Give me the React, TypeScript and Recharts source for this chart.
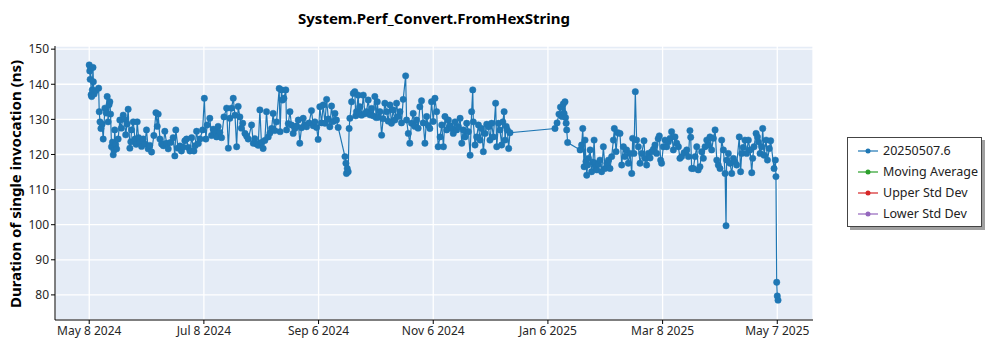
import { LineChart, Line, XAxis, YAxis, CartesianGrid } from "recharts";

// days after May 8 2024, duration in ns
const spring2024: [number, number][] = [
  [0, 145.5], [0.3, 143.8], [0.5, 141.4], [0.8, 144.6], [1.0, 137.0], [1.3, 136.5], [1.6, 138.4], [2.0, 144.8],
  [2.2, 140.7], [2.6, 137.2], [3.5, 138.2], [5.0, 138.9], [5.3, 132.2], [5.7, 129.3], [6.2, 127.4], [6.8, 128.6],
  [7.4, 124.4], [8.3, 133.2], [9.0, 131.8], [9.5, 136.5], [10.0, 129.3], [10.5, 134.2], [10.9, 135.0], [11.3, 131.5],
  [11.8, 122.2], [12.3, 123.5], [12.7, 119.9], [13.1, 121.2], [13.5, 127.0], [14.0, 122.8], [14.5, 121.6], [15.3, 124.4],
  [16.2, 129.8], [17.0, 127.5], [18.0, 131.2], [18.6, 130.0], [19.3, 125.6], [20.0, 128.7], [20.6, 132.9], [21.5, 121.8],
  [22.0, 123.6], [22.4, 127.0], [23.3, 129.3], [24.2, 124.4], [24.8, 122.9], [25.4, 129.3], [26.1, 124.8], [26.8, 123.4],
  [27.7, 122.3], [28.6, 124.4], [29.4, 123.0], [30.3, 127.0], [31.2, 121.6], [32.0, 122.6], [33.0, 120.7], [34.2, 125.4],
  [35.3, 131.9], [36.0, 128.0], [36.5, 131.5], [37.4, 124.4], [38.3, 123.0], [39.2, 122.5], [40.0, 126.6], [40.9, 123.2],
  [41.8, 121.6], [43.0, 123.4], [44.4, 124.8], [45.3, 119.6], [45.8, 127.0], [47.0, 121.8], [48.0, 122.4], [48.8, 121.0],
  [49.7, 122.1], [50.6, 123.9], [51.5, 124.4], [52.4, 122.0], [53.3, 121.0], [54.2, 124.8], [55.4, 121.0], [56.0, 122.5],
  [56.8, 126.6], [57.7, 123.1], [58.6, 124.4], [60.0, 127.0], [60.9, 136.0], [61.7, 124.4], [62.4, 128.4], [63.8, 130.3],
  [64.7, 125.4], [65.6, 127.2], [66.5, 126.6], [67.4, 125.0], [68.2, 128.0], [69.1, 126.3], [70.0, 124.8], [71.3, 130.7],
  [72.7, 133.2], [73.6, 121.8], [74.4, 130.3], [75.3, 133.2], [76.2, 136.0], [77.1, 131.2], [78.0, 122.2], [78.8, 133.7],
  [79.7, 130.7], [80.5, 127.5], [81.2, 128.9], [82.4, 126.0], [83.3, 125.2], [84.1, 124.4],
];

const autumn2024: [number, number][] = [
  [85.9, 128.4], [86.8, 123.2], [87.6, 124.5], [88.5, 123.0], [89.4, 122.6], [90.3, 132.7], [91.1, 123.4], [92.0, 121.7],
  [92.9, 124.0], [93.8, 132.2], [94.7, 125.0], [95.6, 126.1], [96.5, 127.4], [97.3, 131.7], [98.2, 126.8], [99.1, 129.3],
  [100.5, 138.8], [101.0, 126.5], [101.7, 138.4], [102.3, 135.5], [103.0, 136.0], [104.0, 138.4], [104.4, 127.0], [105.3, 128.8],
  [106.2, 132.2], [107.0, 128.4], [107.9, 126.0], [108.8, 127.4], [109.7, 128.1], [110.6, 129.8], [111.4, 123.2], [112.3, 127.6],
  [113.2, 130.3], [114.1, 128.5], [115.0, 127.9], [116.3, 129.0], [117.6, 132.5], [118.5, 128.2], [119.4, 129.3], [120.3, 127.7],
  [121.1, 124.3], [122.0, 133.6], [122.9, 129.0], [123.8, 134.1], [124.7, 128.9], [125.6, 135.7], [126.5, 130.1], [127.3, 127.9],
  [128.2, 133.8], [129.1, 129.4], [130.0, 131.7], [130.8, 129.8], [131.7, 127.7], [135.3, 119.4], [135.8, 117.5], [136.1, 114.6],
  [136.5, 116.0], [137.0, 115.1], [137.5, 127.4], [137.9, 130.3], [138.8, 135.0], [139.7, 137.4], [140.5, 137.9], [141.0, 131.0],
  [141.4, 132.2], [142.3, 136.9], [142.8, 131.5], [143.2, 133.6], [144.1, 131.2], [145.0, 136.9], [145.8, 131.6], [146.7, 132.2],
  [147.6, 135.5], [148.5, 131.3], [149.4, 133.1], [150.2, 131.0], [151.1, 136.5], [151.8, 130.5], [152.4, 135.0], [153.1, 130.6],
  [153.8, 132.2], [154.7, 125.5], [155.5, 130.2], [156.4, 134.6], [157.3, 132.2], [158.2, 129.5], [159.1, 134.1], [159.9, 128.9],
  [160.8, 132.7], [161.7, 129.8], [162.6, 134.6], [163.5, 130.8], [164.4, 132.2], [165.2, 129.0], [166.1, 135.7], [167.4, 142.4],
  [167.9, 129.8], [168.8, 126.0], [169.6, 123.2], [170.5, 128.9], [171.4, 131.7], [172.3, 128.0], [173.2, 129.8], [174.0, 127.5],
  [174.9, 133.6], [175.8, 135.3], [176.7, 129.0], [177.6, 123.2], [178.5, 130.8], [179.3, 128.3], [180.2, 127.4], [181.1, 135.0],
  [182.0, 129.4], [182.9, 136.0],
];

const winter2025: [number, number][] = [
  [183.8, 132.2], [184.6, 122.2], [185.6, 125.0], [186.5, 128.4], [187.4, 122.2], [188.2, 130.8], [189.1, 127.0], [190.0, 129.8],
  [190.9, 128.2], [191.8, 127.4], [192.6, 126.0], [193.5, 129.3], [194.4, 127.0], [195.3, 127.9], [196.2, 130.3], [197.1, 123.2],
  [197.9, 127.0], [198.8, 125.0], [199.7, 128.9], [200.6, 126.5], [201.5, 119.8], [202.3, 132.2], [202.9, 138.4], [203.2, 129.3],
  [204.1, 122.7], [205.0, 125.0], [205.9, 128.4], [206.8, 124.1], [207.6, 127.4], [208.5, 120.8], [209.4, 126.0], [210.3, 128.6],
  [211.2, 127.9], [212.0, 124.1], [212.9, 128.9], [213.8, 125.0], [215.0, 134.6], [215.6, 122.2], [216.5, 128.9], [217.3, 127.0],
  [218.2, 122.7], [218.8, 129.3], [219.5, 132.2], [220.0, 124.1], [220.6, 128.0], [221.2, 127.0], [221.9, 121.7], [222.6, 126.2],
  [246.4, 127.4], [247.5, 129.0], [248.5, 131.5], [249.3, 133.5], [250.0, 130.8], [250.8, 134.4], [251.2, 131.7], [251.7, 135.0],
  [252.0, 130.5], [252.3, 128.9], [252.6, 127.0], [253.1, 123.4], [259.7, 121.3], [260.5, 122.7], [261.1, 127.4], [261.8, 116.5],
  [262.3, 124.1], [262.8, 118.0], [263.2, 114.1], [263.7, 117.0], [264.1, 118.9], [265.0, 121.3], [265.8, 115.1], [266.5, 117.8],
  [267.1, 124.1], [267.6, 117.5], [268.0, 116.4], [268.5, 115.6], [269.3, 117.2], [270.2, 118.4], [271.1, 115.1], [272.0, 122.2],
  [272.9, 116.0], [273.8, 117.5], [274.7, 118.4], [275.5, 116.0], [276.4, 119.4], [277.3, 124.1], [277.8, 127.4], [278.7, 120.8],
  [279.6, 126.2],
];

const spring2025: [number, number][] = [
  [280.8, 126.0], [281.7, 117.0], [282.6, 122.2], [283.4, 119.4], [284.3, 121.3], [285.2, 117.5], [286.1, 120.3], [287.0, 114.6],
  [287.5, 124.6], [288.2, 120.3], [288.9, 137.9], [289.6, 124.1], [290.5, 122.2], [291.4, 117.5], [292.3, 120.3], [293.5, 123.9],
  [294.0, 118.9], [294.9, 117.0], [295.8, 120.3], [296.7, 119.0], [297.6, 120.8], [298.5, 121.5], [299.3, 122.7], [300.2, 120.3],
  [301.0, 124.5], [301.6, 125.3], [302.3, 118.4], [302.8, 117.5], [303.7, 122.2], [304.6, 124.1], [305.5, 122.2], [306.4, 123.6],
  [307.3, 124.6], [308.1, 126.5], [309.0, 121.3], [309.9, 125.0], [310.8, 123.2], [311.7, 122.2], [312.5, 118.9], [313.4, 119.4],
  [314.7, 120.5], [316.1, 121.3], [317.0, 119.4], [317.8, 126.8], [318.2, 124.9], [318.7, 116.0], [319.6, 116.0], [320.5, 119.4],
  [321.4, 122.2], [322.2, 115.6], [323.1, 116.5], [324.0, 120.8], [324.9, 118.9], [325.8, 122.2], [326.7, 124.1], [327.5, 122.7],
  [328.4, 125.0], [329.3, 121.3], [330.2, 124.6], [331.1, 127.0], [332.0, 118.4], [332.8, 117.0], [333.7, 116.0], [334.6, 124.1],
  [335.5, 121.3], [336.4, 114.6], [336.9, 99.7], [337.2, 118.4], [338.1, 120.3], [339.0, 117.5], [339.9, 114.6], [340.8, 118.9],
  [341.6, 117.9], [342.5, 117.0], [343.9, 125.0], [344.6, 115.1], [345.2, 120.3], [346.0, 122.0], [346.9, 124.1], [347.8, 120.3],
  [348.7, 124.1], [349.6, 121.3], [350.5, 114.8], [351.0, 118.9], [351.7, 122.2], [352.8, 126.0], [353.5, 125.0], [354.0, 123.6],
  [354.9, 120.3], [355.8, 122.2], [356.3, 127.4], [357.0, 119.8], [358.1, 124.1], [358.8, 118.4], [359.8, 121.7], [360.5, 123.9],
  [362.3, 116.0], [363.0, 118.4], [363.3, 113.7], [363.7, 83.6], [364.0, 79.7], [364.4, 78.5],
];

const dateTicks = ["May 8 2024", "Jul 8 2024", "Sep 6 2024", "Nov 6 2024", "Jan 6 2025", "Mar 8 2025", "May 7 2025"];
const yTicks = [80, 90, 100, 110, 120, 130, 140, 150];

const legendItems = [
  { name: "20250507.6", color: "#1f77b4" },
  { name: "Moving Average", color: "#2ca02c" },
  { name: "Upper Std Dev", color: "#d62728" },
  { name: "Lower Std Dev", color: "#9467bd" },
];

const data = [...spring2024, ...autumn2024, ...winter2025, ...spring2025].map(([day, ns]) => ({ day, ns }));
const tickDays = dateTicks.map((_, i) => (i * 364) / 6);
const xDomain = [-18.1, 382.9];
const yDomain = [72.85, 150.9];

const font = "'Noto Sans', 'DejaVu Sans', sans-serif";
const tickStyle = { fontSize: 12, fill: "#262626", fontFamily: font };

export default function App() {
  return (
    <div style={{ position: "fixed", left: 0, top: 0, width: 1000, height: 350, background: "#fff", fontFamily: font }}>
      <div
        style={{
          position: "absolute",
          left: 0,
          top: 8,
          width: 868,
          textAlign: "center",
          fontWeight: "bold",
          fontSize: 15,
          color: "#000",
        }}
      >
        System.Perf_Convert.FromHexString
      </div>
      <div
        style={{
          position: "absolute",
          left: 15,
          top: 184,
          transform: "translate(-50%, -50%) rotate(-90deg)",
          whiteSpace: "nowrap",
          fontWeight: "bold",
          fontSize: 15,
          color: "#000",
        }}
      >
        Duration of single invocation (ns)
      </div>

      <LineChart width={1000} height={350} data={data} margin={{ top: 46, right: 187, bottom: 0, left: 10 }}>
        <CartesianGrid stroke="#ffffff" strokeWidth={1.3} fill="#e5ecf6" />
        <XAxis
          dataKey="day"
          type="number"
          domain={xDomain}
          ticks={tickDays}
          tickFormatter={(v) => dateTicks[tickDays.indexOf(v)]}
          allowDataOverflow
          height={30}
          tick={tickStyle}
          tickSize={4}
          stroke="#000"
        />
        <XAxis xAxisId="top" orientation="top" dataKey="day" type="number" domain={xDomain} height={0} tick={false} tickLine={false} stroke="#000" />
        <YAxis
          type="number"
          domain={yDomain}
          ticks={yTicks}
          allowDataOverflow
          width={45}
          tick={tickStyle}
          tickSize={4}
          stroke="#000"
        />
        <YAxis yAxisId="right" orientation="right" type="number" domain={yDomain} width={0} tick={false} tickLine={false} stroke="#000" />
        <Line
          type="linear"
          dataKey="ns"
          stroke="#1f77b4"
          strokeWidth={1.2}
          dot={{ r: 3.2, fill: "#1f77b4", stroke: "#1f77b4", strokeWidth: 0.5 }}
          isAnimationActive={false}
        />
      </LineChart>

      <div
        style={{
          position: "absolute",
          left: 847,
          top: 137,
          width: 135,
          height: 90,
          border: "1px solid #444",
          background: "#fff",
          boxShadow: "3px 3px 0 #a0a0a0",
          boxSizing: "border-box",
          paddingTop: 2,
        }}
      >
        {legendItems.map((item) => (
          <div key={item.name} style={{ display: "flex", alignItems: "center", height: 21, fontSize: 12.5, color: "#222" }}>
            <svg width={34} height={10}>
              <line x1={10} y1={5} x2={30} y2={5} stroke={item.color} strokeWidth={1.2} />
              <circle cx={20} cy={5} r={2.5} fill={item.color} />
            </svg>
            <span style={{ marginLeft: 1 }}>{item.name}</span>
          </div>
        ))}
      </div>
    </div>
  );
}
